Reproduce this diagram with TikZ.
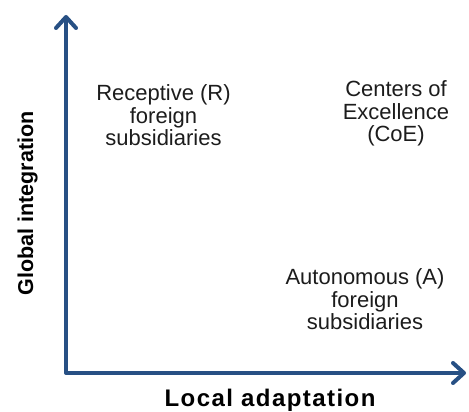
\documentclass[tikz,border=0pt]{standalone}
\usepackage{fontspec}
\setmainfont{Liberation Sans}
\newfontfamily\spacedfont[LetterSpace=6]{Liberation Sans}
\usetikzlibrary{arrows.meta}
\definecolor{axisblue}{RGB}{39,80,132}
\definecolor{txt}{RGB}{28,28,28}
\tikzset{
  axisline/.style={line width=4pt, color=axisblue, line join=round,
    arrows={Straight Barb[length=11pt, width=20pt, line join=round, line cap=round]-Straight Barb[length=11pt, width=20pt, line join=round, line cap=round]}},
  quad/.style={anchor=base, inner sep=0pt, text=txt,
    font=\fontsize{22}{21}\selectfont},
  axislabel/.style={anchor=base, inner sep=0pt, text=black}
}
\begin{document}
\begin{tikzpicture}[x=1pt,y=1pt]
\useasboundingbox (0,0) rectangle (469,412);
\coordinate (ytip) at (66,397);
\coordinate (origin) at (66,39);
\coordinate (xtip) at (466,39);
\draw[axisline] (ytip) -- (origin) -- (xtip);
\node[quad] (rec) at (163.5,311) {\begin{tabular}[t]{@{}c@{}}Receptive (R)\\foreign\\subsidiaries\end{tabular}};
\node[quad] (coe) at (396,315) {\begin{tabular}[t]{@{}c@{}}Centers of\\Excellence\\(CoE)\end{tabular}};
\node[quad] (aut) at (365,127) {\begin{tabular}[t]{@{}c@{}}Autonomous (A)\\foreign\\subsidiaries\end{tabular}};
\node[axislabel, font=\spacedfont\bfseries\fontsize{24}{28}\selectfont] (xl) at (270,5) {Local adaptation};
\node[axislabel, rotate=90, font=\bfseries\fontsize{21.5}{26}\selectfont] (yl) at (33,208.5) {Global integration};
\end{tikzpicture}
\end{document}
